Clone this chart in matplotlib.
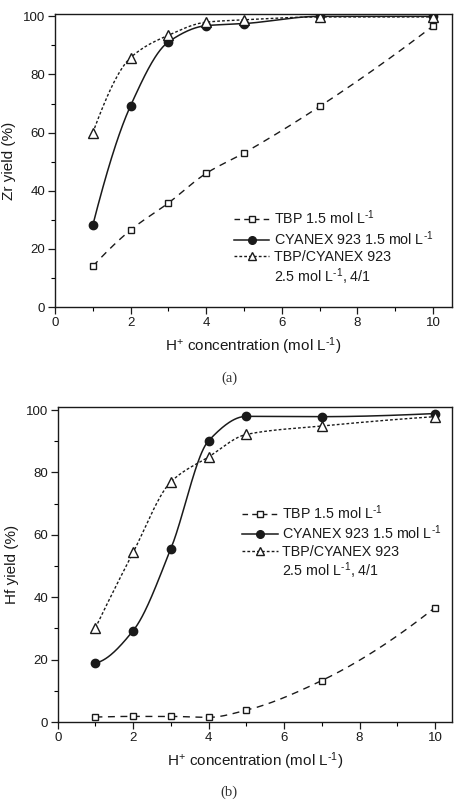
import numpy as np
import matplotlib
matplotlib.use('Agg')
import matplotlib.pyplot as plt
from matplotlib.lines import Line2D

plt.rcParams['font.family'] = ['Liberation Sans', 'DejaVu Sans']
plt.rcParams['mathtext.fontset'] = 'custom'
plt.rcParams['mathtext.rm'] = 'Liberation Sans'
plt.rcParams['mathtext.it'] = 'Liberation Sans'
plt.rcParams['mathtext.default'] = 'regular'

# H+ concentration (mol/L)
conc = [1, 2, 3, 4, 5, 7, 10]

# Zr yield (%)
zr_tbp = [14.0, 26.5, 35.8, 46.0, 53.0, 69.0, 96.7]
zr_cyanex = [28.2, 69.3, 91.2, 96.8, 97.5, 100.0, 100.0]
zr_mix = [60.0, 85.8, 93.5, 98.0, 98.8, 99.8, 99.8]

# Hf yield (%)
hf_tbp = [1.6, 1.8, 1.8, 1.5, 3.8, 13.3, 36.7]
hf_cyanex = [18.9, 29.3, 55.6, 90.2, 98.0, 97.9, 98.9]
hf_mix = [30.2, 54.4, 77.0, 85.0, 92.2, 94.9, 97.9]

inv = '$^{\u20101}$'
labels = ['TBP 1.5 mol L' + inv, 'CYANEX 923 1.5 mol L' + inv,
          'TBP/CYANEX 923', '2.5 mol L' + inv + ', 4/1']
xlabel = 'H$^{+}$ concentration (mol L' + inv + ')'


def pchip(x, y, n=400):
    """monotone cubic curve through the measured points (only for the drawn line)"""
    x = np.asarray(x, float)
    y = np.asarray(y, float)
    h = np.diff(x)
    delta = np.diff(y) / h
    k = len(x)
    d = np.zeros(k)
    for i in range(1, k - 1):
        if delta[i - 1] * delta[i] > 0:
            w1 = 2 * h[i] + h[i - 1]
            w2 = h[i] + 2 * h[i - 1]
            d[i] = (w1 + w2) / (w1 / delta[i - 1] + w2 / delta[i])
    for j, (hh0, hh1, dd0, dd1) in ((0, (h[0], h[1], delta[0], delta[1])),
                                    (k - 1, (h[-1], h[-2], delta[-1], delta[-2]))):
        dj = ((2 * hh0 + hh1) * dd0 - hh0 * dd1) / (hh0 + hh1)
        if np.sign(dj) != np.sign(dd0):
            dj = 0
        elif np.sign(dd0) != np.sign(dd1) and abs(dj) > abs(3 * dd0):
            dj = 3 * dd0
        d[j] = dj
    xs = np.linspace(x[0], x[-1], n)
    idx = np.clip(np.searchsorted(x, xs) - 1, 0, k - 2)
    t = (xs - x[idx]) / h[idx]
    h00 = 2 * t ** 3 - 3 * t ** 2 + 1
    h10 = t ** 3 - 2 * t ** 2 + t
    h01 = -2 * t ** 3 + 3 * t ** 2
    h11 = t ** 3 - t ** 2
    ys = h00 * y[idx] + h10 * h[idx] * d[idx] + h01 * y[idx + 1] + h11 * h[idx] * d[idx + 1]
    return xs, ys


def draw_panel(ax, tbp, cyanex, mix, ylabel, xlim, ylim):
    c = '#1a1a1a'
    xs, ys = pchip(conc, tbp)
    ax.plot(xs, ys, color=c, lw=1.0, ls=(0, (5, 4)))
    ax.plot(conc, tbp, ls='none', marker='s', ms=5, mfc='white', mec=c, mew=1.0)
    xs, ys = pchip(conc, cyanex)
    ax.plot(xs, ys, color=c, lw=1.1, ls='-')
    ax.plot(conc, cyanex, ls='none', marker='o', ms=6, mfc=c, mec=c)
    xs, ys = pchip(conc, mix)
    ax.plot(xs, ys, color=c, lw=1.0, ls=(0, (2, 1.5)))
    ax.plot(conc, mix, ls='none', marker='^', ms=6.5, mfc='white', mec=c, mew=1.0)

    ax.set_xlim(*xlim)
    ax.set_ylim(*ylim)
    ax.set_xticks([0, 2, 4, 6, 8, 10])
    ax.set_xticks([1, 3, 5, 7, 9], minor=True)
    ax.set_yticks([0, 20, 40, 60, 80, 100])
    ax.set_yticks([10, 30, 50, 70, 90], minor=True)
    ax.tick_params(which='major', length=5, width=0.9, labelsize=9.5, colors=c, pad=2)
    ax.tick_params(which='minor', length=3, width=0.8)
    for s in ax.spines.values():
        s.set_linewidth(1.0)
        s.set_color(c)
    ax.set_xlabel(xlabel, fontsize=11, color=c, labelpad=5)
    ax.set_ylabel(ylabel, fontsize=11, color=c, labelpad=5)

    handles = [
        Line2D([], [], color=c, lw=1.0, ls=(0, (4, 3)), marker='s', ms=4, mfc='white', mec=c),
        Line2D([], [], color=c, lw=1.1, ls='-', marker='o', ms=5.5, mfc=c, mec=c),
        Line2D([], [], color=c, lw=1.0, ls=(0, (2, 1.5)), marker='^', ms=5.5, mfc='white', mec=c),
        Line2D([], [], ls='none'),
    ]
    return handles


fig = plt.figure(figsize=(4.57, 8.01), dpi=100)
ax1 = fig.add_axes([0.1204, 0.6167, 0.8686, 0.3658])
ax2 = fig.add_axes([0.1263, 0.0986, 0.8627, 0.3933])

h1 = draw_panel(ax1, zr_tbp, zr_cyanex, zr_mix, 'Zr yield (%)', (0, 10.5), (0, 100.8))
h2 = draw_panel(ax2, hf_tbp, hf_cyanex, hf_mix, 'Hf yield (%)', (0, 10.45), (0, 101))

leg_kw = dict(loc='upper left', frameon=False, fontsize=10.3, handlelength=2.5,
              handletextpad=0.3, labelspacing=0.15, borderaxespad=0, borderpad=0,
              labelcolor='#1a1a1a')
ax1.legend(h1, labels, bbox_to_anchor=(0.45, 0.335), **leg_kw)
ax2.legend(h2, labels, bbox_to_anchor=(0.468, 0.695), **leg_kw)

fig.text(0.501, 1 - 378 / 801, '(a)', ha='center', va='center', fontsize=10.5,
         family='Liberation Serif', color='#333333')
fig.text(0.501, 1 - 792 / 801, '(b)', ha='center', va='center', fontsize=10.5,
         family='Liberation Serif', color='#333333')

fig.savefig('out.png', dpi=100)
